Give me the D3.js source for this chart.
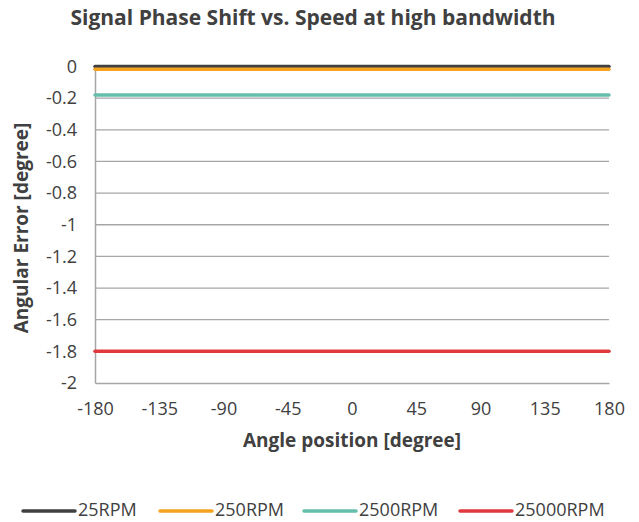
<!DOCTYPE html>
<html><head><meta charset="utf-8">
<script src="https://cdn.jsdelivr.net/npm/d3@7"></script>
<style>body{margin:0;background:#fff}svg{display:block;font-family:"Open Sans",sans-serif}</style>
</head><body><svg id="c" width="639" height="522"></svg>
<script>
const xTicks = [-180,-135,-90,-45,0,45,90,135,180];
const yTicks = [0,-0.2,-0.4,-0.6,-0.8,-1,-1.2,-1.4,-1.6,-1.8,-2];
const seriesNames = ["25RPM","250RPM","2500RPM","25000RPM"];
const seriesColors = ["#404040","#f5a31f","#66bfac","#e03a3e"];
const angles = [-180,-135,-90,-45,0,45,90,135,180];
const v25 = [0,0,0,0,0,0,0,0,0];
const v250 = [-0.018,-0.018,-0.018,-0.018,-0.018,-0.018,-0.018,-0.018,-0.018];
const v2500 = [-0.18,-0.18,-0.18,-0.18,-0.18,-0.18,-0.18,-0.18,-0.18];
const v25000 = [-1.8,-1.8,-1.8,-1.8,-1.8,-1.8,-1.8,-1.8,-1.8];
const seriesValues = [v25,v250,v2500,v25000];

const svg = d3.select("#c");
const x = d3.scaleLinear().domain([-180,180]).range([95,609]);
const y = d3.scaleLinear().domain([-2,0]).range([383,66.5]);
const txt = "#404040";
const fmt = d => String(+(+d).toFixed(1));

// gridlines
svg.append("g").selectAll("line").data(yTicks.filter(d=>d>-2)).join("line")
  .attr("x1",x(-180)).attr("x2",x(180)).attr("y1",d=>y(d)).attr("y2",d=>y(d))
  .attr("stroke","#a6a6a6").attr("stroke-width",1.3);
// axes
const ya = svg.append("g").attr("transform",`translate(${x(-180)},0)`)
  .call(d3.axisLeft(y).tickValues(yTicks).tickSize(0).tickPadding(18).tickFormat(fmt));
ya.select(".domain").attr("stroke","#a6a6a6").attr("stroke-width",1.5);
ya.selectAll("text").attr("font-size",18).attr("fill",txt).attr("font-family","Open Sans");
const xa = svg.append("g").attr("transform",`translate(0,${y(-2)})`)
  .call(d3.axisBottom(x).tickValues(xTicks).tickSize(0).tickPadding(19).tickFormat(fmt));
xa.select(".domain").attr("stroke","#a6a6a6").attr("stroke-width",1.5);
xa.selectAll("text").attr("font-size",18).attr("fill",txt).attr("font-family","Open Sans");

// lines
const line = d3.line().x((d,i)=>x(angles[i])).y(d=>y(d));
seriesValues.forEach((vals,k)=>{
  svg.append("path").datum(vals).attr("d",line).attr("fill","none")
    .attr("stroke",seriesColors[k]).attr("stroke-width",3.5).attr("stroke-linecap","round");
});

// titles
svg.append("text").attr("x",313).attr("y",25).attr("text-anchor","middle")
  .attr("font-size",21).attr("font-weight","bold").attr("fill",txt).text("Signal Phase Shift vs. Speed at high bandwidth");
svg.append("text").attr("x",352).attr("y",447).attr("text-anchor","middle")
  .attr("font-size",19).attr("font-weight","bold").attr("fill",txt).text("Angle position [degree]");
svg.append("text").attr("transform","translate(28,228) rotate(-90)").attr("text-anchor","middle")
  .attr("font-size",19).attr("font-weight","bold").attr("fill",txt).text("Angular Error [degree]");

// legend
const legX = [23,160,304,460];
const lg = svg.append("g");
seriesNames.forEach((n,k)=>{
  lg.append("line").attr("x1",legX[k]).attr("x2",legX[k]+52).attr("y1",511).attr("y2",511)
    .attr("stroke",seriesColors[k]).attr("stroke-width",3.5).attr("stroke-linecap","round");
  lg.append("text").attr("x",legX[k]+55).attr("y",516).attr("font-size",18).attr("fill",txt).text(n);
});
</script></body></html>
